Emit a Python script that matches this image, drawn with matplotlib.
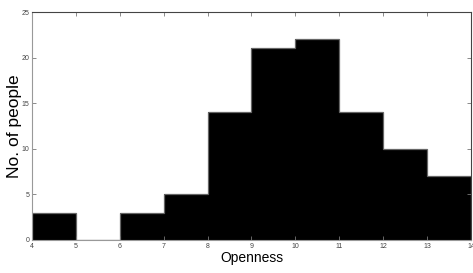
import matplotlib
matplotlib.use('Agg')
import matplotlib.pyplot as plt
import numpy as np

bin_edges = [4, 5, 6, 7, 8, 9, 10, 11, 12, 13, 14]
counts = [3, 0, 3, 5, 14, 21, 22, 14, 10, 7]
x_ticks = [4, 5, 6, 7, 8, 9, 10, 11, 12, 13, 14]
y_ticks = [0, 5, 10, 15, 20, 25]


def main():
    plt.rcParams['font.family'] = ['Liberation Sans Narrow', 'Liberation Sans', 'DejaVu Sans']
    fig = plt.figure(figsize=(4.73, 2.73), dpi=100)
    ax = fig.add_axes([0.0677, 0.121, 0.928, 0.835])

    # filled bars, outline drawn separately so inner edges do not show
    ax.hist(bin_edges[:-1], bins=bin_edges, weights=counts,
            color='black', linewidth=0)
    ax.stairs(counts, bin_edges, color='#666666', linewidth=0.9)

    ax.set_xlim(4, 14)
    ax.set_ylim(0, 25)
    ax.set_xticks(x_ticks)
    ax.set_yticks(y_ticks)
    ax.tick_params(direction='in', length=3, width=0.6, colors='#777777',
                   labelsize=5, labelcolor='#444444', top=True, right=True, pad=2)
    for side in ['left', 'bottom']:
        ax.spines[side].set_color('#999999')
    for side in ['top', 'right']:
        ax.spines[side].set_color('#444444')
    for s in ax.spines.values():
        s.set_linewidth(0.8)

    ax.set_xlabel('Openness', fontsize=10, labelpad=1)
    ax.set_ylabel('No. of people', fontsize=12.5,
                  family=['Liberation Sans', 'DejaVu Sans'])
    ax.yaxis.set_label_coords(-0.04, 0.5)
    ax.yaxis.label.set_va('center')

    fig.savefig('out.png', dpi=100)


if __name__ == '__main__':
    main()
